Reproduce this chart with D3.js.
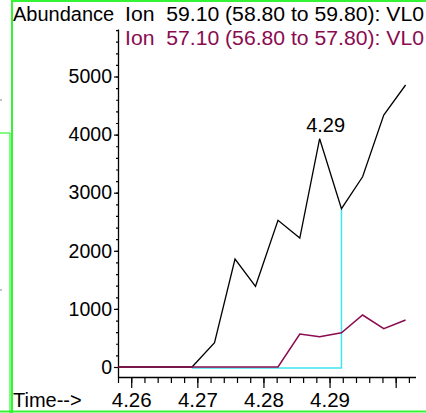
<!DOCTYPE html>
<html>
<head>
<meta charset="utf-8">
<script src="https://cdn.jsdelivr.net/npm/d3@7"></script>
<style>
  html, body { margin: 0; padding: 0; background: #fff; }
  svg { display: block; font-family: "Liberation Sans", Arial, sans-serif; }
</style>
</head>
<body>
<svg id="chart" width="426" height="413"></svg>
<script>
// Retention times (min) of the scans and the extracted-ion abundances
const times = [4.2563, 4.2595, 4.2627, 4.2660, 4.2692, 4.2726, 4.2757, 4.2788,
               4.2822, 4.2855, 4.2885, 4.2918, 4.2950, 4.2982, 4.3015];
const ion59 = [0, 0, 0, 0, 0, 418, 1859, 1389, 2525, 2220, 3929, 2725, 3275, 4337, 4854];
const ion57 = [0, 0, 0, 0, 0, 0, 0, 0, 0, 568, 521, 590, 895, 659, 809];

const legendLabels = ["Ion  59.10 (58.80 to 59.80): VL0", "Ion  57.10 (56.80 to 57.80): VL0"];
const seriesColors = ["#000000", "#8a0b4f"];

const xMajorTicks = [4.26, 4.27, 4.28, 4.29, 4.30];
const xTickLabels = ["4.26", "4.27", "4.28", "4.29", ""];
const yMajorTicks = [0, 1000, 2000, 3000, 4000, 5000];

// Integration window on ion 59.10
const integStart = 4.2692;
const integEnd = 4.2918;

const svg = d3.select("#chart");
const W = 426, H = 413;

const x = d3.scaleLinear().domain([4.258, 4.303]).range([118, 415.5]);
const y = d3.scaleLinear().domain([-172, 5818]).range([377, 29]);

const green = "#33f533";

// Window frames
svg.append("line").attr("x1", 12).attr("x2", 12).attr("y1", 0).attr("y2", H)
  .attr("stroke", green).attr("stroke-width", 2);
svg.append("line").attr("x1", 12).attr("x2", W).attr("y1", 1).attr("y2", 1)
  .attr("stroke", green).attr("stroke-width", 2);
svg.append("line").attr("x1", 0).attr("x2", W).attr("y1", 411.5).attr("y2", 411.5)
  .attr("stroke", green).attr("stroke-width", 2);
svg.append("line").attr("x1", 10).attr("x2", 10).attr("y1", 133).attr("y2", H)
  .attr("stroke", green).attr("stroke-width", 1.2);
svg.append("line").attr("x1", 0).attr("x2", 10).attr("y1", 133).attr("y2", 133)
  .attr("stroke", green).attr("stroke-width", 1.2);
[100, 290].forEach(v => svg.append("line").attr("x1", 0).attr("x2", 2)
  .attr("y1", v).attr("y2", v).attr("stroke", "#888").attr("stroke-width", 1));

// Clip for the traces
svg.append("clipPath").attr("id", "plotClip").append("rect")
  .attr("x", 118).attr("y", 0).attr("width", 300).attr("height", 378);

// Y axis: minor then major ticks
const yMinor = d3.range(0, 5801, 200);
svg.append("g").attr("transform", "translate(118,0)")
  .call(d3.axisLeft(y).tickValues(yMinor).tickSize(2).tickFormat(""))
  .call(g => g.select(".domain").remove());
const yAxis = svg.append("g").attr("transform", "translate(118,0)")
  .call(d3.axisLeft(y).tickValues(yMajorTicks).tickSize(4).tickSizeOuter(0).tickPadding(2)
        .tickFormat(d3.format("d")));
yAxis.selectAll("text").attr("font-size", 19.5).attr("fill", "#000")
  .attr("font-family", "Liberation Sans, Arial, sans-serif");

// X axis: minor then major ticks
const xMinor = d3.range(0, 23).map(i => 4.258 + i * 0.002);
svg.append("g").attr("transform", "translate(0,377)")
  .call(d3.axisBottom(x).tickValues(xMinor).tickSize(6).tickFormat(""))
  .call(g => g.select(".domain").remove());
const xAxis = svg.append("g").attr("transform", "translate(0,377)")
  .call(d3.axisBottom(x).tickValues(xMajorTicks).tickSize(11).tickSizeOuter(0).tickPadding(4)
        .tickFormat((d, i) => xTickLabels[i]));
xAxis.selectAll("text").attr("font-size", 20.5).attr("fill", "#000")
  .attr("font-family", "Liberation Sans, Arial, sans-serif");

svg.selectAll("g line").attr("stroke", "#000").attr("stroke-width", 1.2);
[yAxis, xAxis].forEach(g => {
  g.selectAll("path").attr("stroke", "#000").attr("stroke-width", 1.3);
});

// Traces
const line = d3.line().x((d, i) => x(times[i])).y(d => y(d));
const plot = svg.append("g").attr("clip-path", "url(#plotClip)");

// Integration baseline and drop line
const iEnd = times.indexOf(integEnd);
plot.append("path")
  .attr("d", d3.line()([[x(integStart), y(0) + 1], [x(integEnd), y(0) + 1], [x(integEnd), y(ion59[iEnd])]]))
  .attr("fill", "none").attr("stroke", "#3fe6ee").attr("stroke-width", 1.5);

plot.append("path").datum(ion59).attr("d", line)
  .attr("fill", "none").attr("stroke", seriesColors[0]).attr("stroke-width", 1.3);
plot.append("path").datum(ion57).attr("d", line)
  .attr("fill", "none").attr("stroke", seriesColors[1]).attr("stroke-width", 1.5);

// Peak apex label
const iPeak = d3.maxIndex(ion59.slice(0, 12));
svg.append("text")
  .attr("x", x(times[iPeak]) + 6).attr("y", y(ion59[iPeak]) - 7)
  .attr("text-anchor", "middle").attr("font-size", 20).attr("fill", "#000")
  .text(d3.format(".2f")(times[iPeak]));

// Axis titles
svg.append("text").attr("x", 13).attr("y", 21).attr("font-size", 20).attr("fill", "#000")
  .text("Abundance");
svg.append("text").attr("x", 13).attr("y", 406.5).attr("font-size", 20).attr("fill", "#000")
  .text("Time-->");

// Legend
legendLabels.forEach((t, i) => {
  svg.append("text")
    .attr("x", 125).attr("y", 21 + i * 23.5)
    .attr("font-size", 20).attr("fill", seriesColors[i])
    .attr("textLength", 299).attr("lengthAdjust", "spacingAndGlyphs")
    .style("white-space", "pre")
    .text(t);
});
</script>
</body>
</html>
